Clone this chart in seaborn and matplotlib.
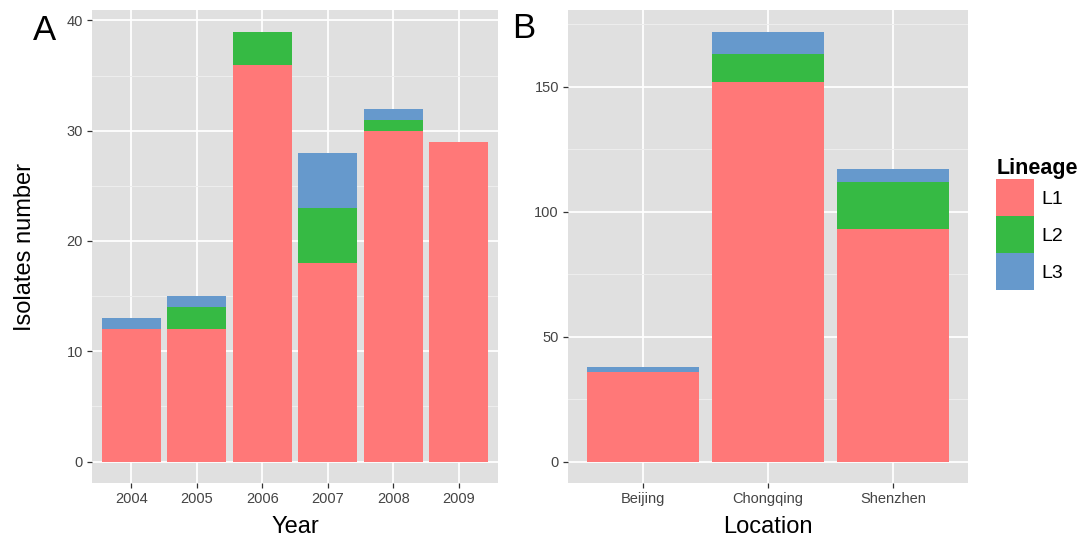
import pandas as pd
import seaborn as sns
import matplotlib.pyplot as plt
from matplotlib.patches import Patch

# datos
years = ["2004", "2005", "2006", "2007", "2008", "2009"]
year_l1 = [12, 12, 36, 18, 30, 29]
year_l2 = [0, 2, 3, 5, 1, 0]
year_l3 = [1, 1, 0, 5, 1, 0]

locations = ["Beijing", "Chongqing", "Shenzhen"]
loc_l1 = [36, 152, 93]
loc_l2 = [0, 11, 19]
loc_l3 = [2, 9, 5]

lineages = ["L1", "L2", "L3"]
colores = {"L1": "#FF7878", "L2": "#36BA44", "L3": "#6699CC"}

plt.rcParams["font.family"] = ["Liberation Sans", "DejaVu Sans"]


def tabla_apilada(cats, l1, l2, l3, nombre):
    # altura acumulada de cada capa para dibujar barras apiladas
    filas = []
    for c, a, b, d in zip(cats, l1, l2, l3):
        filas.append({nombre: c, "Lineage": "L1", "top": a})
        filas.append({nombre: c, "Lineage": "L2", "top": a + b})
        filas.append({nombre: c, "Lineage": "L3", "top": a + b + d})
    return pd.DataFrame(filas)


def estilo_gg(ax, ymax, mayor, cats):
    ax.set_facecolor("#E0E0E0")
    for s in ax.spines.values():
        s.set_visible(False)
    ax.set_axisbelow(True)
    lo, hi = -0.05 * ymax, 1.05 * ymax
    ax.set_yticks([mayor * i for i in range(int(hi // mayor) + 1)])
    ax.set_yticks([mayor / 2 + mayor * i for i in range(int(hi // mayor) + 1)
                   if mayor / 2 + mayor * i < hi], minor=True)
    ax.grid(which="major", color="white", linewidth=1.3)
    ax.grid(which="minor", axis="y", color="#EEEEEE", linewidth=0.7)
    ax.tick_params(which="major", length=3.5, width=0.9, color="#333333",
                   labelsize=10.5, labelcolor="#444444", pad=3)
    ax.tick_params(which="minor", length=0)
    ax.set_xlim(-0.6, len(cats) - 0.4)
    ax.set_ylim(lo, hi)


fig = plt.figure(figsize=(10.87, 5.41), dpi=100)
axA = fig.add_axes([0.0846, 0.1072, 0.3735, 0.8743])
axB = fig.add_axes([0.5225, 0.1072, 0.368, 0.8743])

dfA = tabla_apilada(years, year_l1, year_l2, year_l3, "Year")
sns.barplot(data=dfA, x="Year", y="top", hue="Lineage", hue_order=["L3", "L2", "L1"],
            order=years, palette=colores, dodge=False, width=0.9, saturation=1,
            errorbar=None, legend=False, ax=axA)
totA = max(a + b + c for a, b, c in zip(year_l1, year_l2, year_l3))
estilo_gg(axA, totA, 10, years)
axA.set_xlabel("Year", fontsize=17, labelpad=7)
axA.set_ylabel("Isolates number", fontsize=17, labelpad=22)

dfB = tabla_apilada(locations, loc_l1, loc_l2, loc_l3, "Location")
sns.barplot(data=dfB, x="Location", y="top", hue="Lineage", hue_order=["L3", "L2", "L1"],
            order=locations, palette=colores, dodge=False, width=0.9, saturation=1,
            errorbar=None, legend=False, ax=axB)
totB = max(a + b + c for a, b, c in zip(loc_l1, loc_l2, loc_l3))
estilo_gg(axB, totB, 50, locations)
axB.set_xlabel("Location", fontsize=17, labelpad=7)
axB.set_ylabel("")

fig.text(0.03, 0.975, "A", fontsize=25, va="top", ha="left")
fig.text(0.471, 0.978, "B", fontsize=25, va="top", ha="left")

handles = [Patch(facecolor=colores[l], edgecolor="none", label=l) for l in lineages]
leg = fig.legend(handles=handles, title="Lineage", loc="upper left",
                 bbox_to_anchor=(0.9095, 0.722), frameon=False, fontsize=14,
                 title_fontsize=15.5, handlelength=1.95, handleheight=2.55,
                 labelspacing=0, handletextpad=0.35, borderaxespad=0)
leg.get_title().set_fontweight("bold")
leg._legend_box.align = "left"

fig.savefig("out.png", dpi=100)
